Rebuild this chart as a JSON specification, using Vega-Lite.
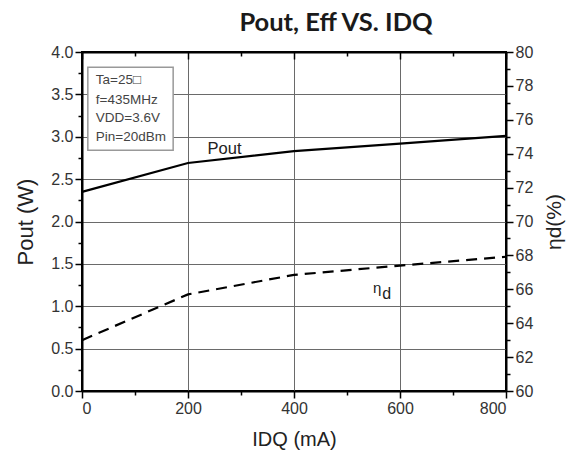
{
  "$schema": "https://vega.github.io/schema/vega-lite/v6.json",
  "width": 424,
  "height": 339,
  "autosize": {"type": "none"},
  "padding": {"left": 82, "top": 52, "right": 67, "bottom": 67},
  "background": "white",
  "title": {"text": "Pout, Eff VS. IDQ", "font": "Lato", "fontSize": 25.5, "fontWeight": "bold", "color": "#1a1a1a", "anchor": "middle", "dx": 42, "offset": 8},
  "config": {
    "view": {"stroke": "black", "strokeWidth": 2},
    "axis": {"labelFont": "Liberation Sans", "titleFont": "Liberation Sans", "labelColor": "#333", "titleColor": "#222", "domainColor": "black", "domainWidth": 2, "tickColor": "black", "tickWidth": 1.5, "gridColor": "#6a6a6a", "gridWidth": 1, "titleFontWeight": "normal"}
  },
  "datasets": {
    "curve": [
      {"idq": 0, "pout": 2.35, "eff": 63.0},
      {"idq": 200, "pout": 2.69, "eff": 65.7},
      {"idq": 400, "pout": 2.83, "eff": 66.85},
      {"idq": 600, "pout": 2.92, "eff": 67.4},
      {"idq": 800, "pout": 3.01, "eff": 67.92}
    ],
    "box": [{"x1": 11, "x2": 172, "y1": 3.82, "y2": 2.84}],
    "notes": [
      {"x": 26, "y": 3.67, "t": "Ta=25□"},
      {"x": 26, "y": 3.43, "t": "f=435MHz"},
      {"x": 26, "y": 3.22, "t": "VDD=3.6V"},
      {"x": 26, "y": 3.0, "t": "Pin=20dBm"}
    ],
    "labels": [{"x": 269, "y": 2.86, "t": "Pout"}],
    "eta": [{"x": 557, "y": 1.22, "t": "η", "s": "d"}]
  },
  "layer": [
    {
      "data": {"name": "curve"},
      "mark": {"type": "line", "color": "black", "strokeWidth": 2.2},
      "encoding": {
        "x": {"field": "idq", "type": "quantitative", "scale": {"domain": [0, 800], "nice": false},
          "axis": {"title": "IDQ (mA)", "values": [0, 100, 200, 300, 400, 500, 600, 700, 800], "labelExpr": "datum.value % 200 === 0 ? datum.label : ''", "tickSize": {"condition": {"test": "datum.value % 200 === 0", "value": 7}, "value": 4}, "gridOpacity": {"condition": {"test": "datum.value % 200 === 0", "value": 1}, "value": 0}, "grid": true, "labelFontSize": 16, "titleFontSize": 20, "titlePadding": 13, "labelPadding": 2}},
        "y": {"field": "pout", "type": "quantitative", "scale": {"domain": [0, 4], "nice": false},
          "axis": {"title": "Pout (W)", "values": [0, 0.25, 0.5, 0.75, 1, 1.25, 1.5, 1.75, 2, 2.25, 2.5, 2.75, 3, 3.25, 3.5, 3.75, 4], "labelExpr": "datum.value % 0.5 === 0 ? format(datum.value, '.1f') : ''", "tickSize": {"condition": {"test": "datum.value % 0.5 === 0", "value": 7}, "value": 4}, "gridOpacity": {"condition": {"test": "datum.value % 0.5 === 0", "value": 1}, "value": 0}, "grid": true, "labelFontSize": 16, "titleFontSize": 22, "titlePadding": 13, "labelPadding": 2}}
      }
    },
    {
      "data": {"name": "curve"},
      "mark": {"type": "line", "color": "black", "strokeWidth": 2.2, "strokeDash": [11, 7]},
      "encoding": {
        "x": {"field": "idq", "type": "quantitative",
          "axis": {"orient": "top", "title": null, "labels": false, "values": [0, 100, 200, 300, 400, 500, 600, 700, 800], "tickSize": {"condition": {"test": "datum.value % 200 === 0", "value": -7}, "value": -4}, "grid": false}},
        "y": {"field": "eff", "type": "quantitative", "scale": {"domain": [60, 80], "nice": false},
          "axis": {"orient": "right", "title": "ηd(%)", "titleAngle": -90, "titleBaseline": "top", "values": [60, 61, 62, 63, 64, 65, 66, 67, 68, 69, 70, 71, 72, 73, 74, 75, 76, 77, 78, 79, 80], "labelExpr": "datum.value % 2 === 0 ? datum.label : ''", "tickSize": {"condition": {"test": "datum.value % 2 === 0", "value": 7}, "value": 4}, "grid": false, "labelFontSize": 16, "titleFontSize": 21, "titlePadding": 11, "labelPadding": 2}}
      }
    },
    {
      "data": {"name": "box"},
      "mark": {"type": "rect", "fill": "white", "stroke": "#999", "strokeWidth": 1.5},
      "encoding": {
        "x": {"field": "x1", "type": "quantitative", "axis": null},
        "x2": {"field": "x2"},
        "y": {"field": "y1", "type": "quantitative", "axis": null, "scale": {"domain": [0, 4], "nice": false}},
        "y2": {"field": "y2"}
      }
    },
    {
      "data": {"name": "notes"},
      "mark": {"type": "text", "align": "left", "baseline": "middle", "font": "Liberation Sans", "fontSize": 13.5, "color": "#444"},
      "encoding": {
        "x": {"field": "x", "type": "quantitative", "axis": null},
        "y": {"field": "y", "type": "quantitative", "axis": null, "scale": {"domain": [0, 4], "nice": false}},
        "text": {"field": "t"}
      }
    },
    {
      "data": {"name": "labels"},
      "mark": {"type": "text", "align": "center", "baseline": "middle", "font": "Liberation Sans", "fontSize": 16.5, "color": "#222"},
      "encoding": {
        "x": {"field": "x", "type": "quantitative", "axis": null},
        "y": {"field": "y", "type": "quantitative", "axis": null, "scale": {"domain": [0, 4], "nice": false}},
        "text": {"field": "t"}
      }
    },
    {
      "data": {"name": "eta"},
      "mark": {"type": "text", "align": "center", "baseline": "middle", "font": "Liberation Sans", "fontSize": 15, "color": "#222"},
      "encoding": {
        "x": {"field": "x", "type": "quantitative", "axis": null},
        "y": {"field": "y", "type": "quantitative", "axis": null, "scale": {"domain": [0, 4], "nice": false}},
        "text": {"field": "t"}
      }
    },
    {
      "data": {"name": "eta"},
      "mark": {"type": "text", "align": "left", "baseline": "middle", "font": "Liberation Sans", "fontSize": 16, "color": "#222", "dx": 5, "dy": 6},
      "encoding": {
        "x": {"field": "x", "type": "quantitative", "axis": null},
        "y": {"field": "y", "type": "quantitative", "axis": null, "scale": {"domain": [0, 4], "nice": false}},
        "text": {"field": "s"}
      }
    }
  ],
  "resolve": {"scale": {"y": "independent"}, "axis": {"x": "independent"}}
}
